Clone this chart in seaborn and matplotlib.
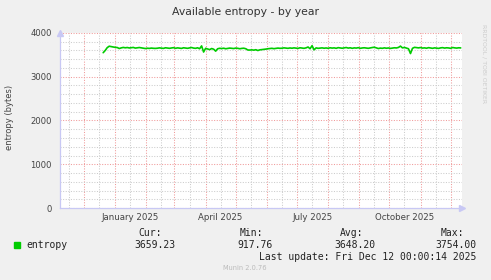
import numpy as np
import pandas as pd
import matplotlib
matplotlib.use("Agg")
import matplotlib.pyplot as plt
import matplotlib.dates as mdates
from matplotlib.ticker import MultipleLocator, FuncFormatter, NullFormatter
import seaborn as sns

# ---- data ----
start_date = "2024-12-20"
step_days = 2
entropy = [
    3550, 3600, 3665, 3698, 3688, 3680, 3672, 3668, 3645, 3660,
    3670, 3662, 3668, 3658, 3664, 3670, 3655, 3662, 3668, 3660,
    3650, 3645, 3652, 3648, 3655, 3650, 3648, 3652, 3660, 3655,
    3648, 3662, 3655, 3650, 3658, 3665, 3650, 3660, 3655, 3648,
    3662, 3655, 3650, 3658, 3668, 3655, 3650, 3662, 3640, 3705,
    3565, 3650, 3635, 3620, 3645, 3630, 3585, 3640, 3650, 3645,
    3652, 3640, 3648, 3655, 3650, 3645, 3655, 3650, 3640, 3648,
    3652, 3640, 3612, 3610, 3615, 3608, 3618, 3600, 3615, 3620,
    3625, 3632, 3640, 3645, 3650, 3642, 3648, 3655, 3650, 3652,
    3660, 3655, 3650, 3658, 3652, 3660, 3655, 3648, 3662, 3655,
    3650, 3660, 3680, 3640, 3710, 3615, 3660, 3650, 3655, 3660,
    3652, 3658, 3650, 3662, 3655, 3660, 3650, 3665, 3658, 3652,
    3660, 3668, 3655, 3662, 3650, 3660, 3655, 3665, 3650, 3658,
    3662, 3655, 3650, 3660, 3668, 3675, 3660, 3645, 3655, 3650,
    3660, 3652, 3658, 3648, 3655, 3662, 3658, 3670, 3700, 3660,
    3670, 3655, 3640, 3530, 3650, 3672, 3665, 3660, 3668, 3655,
    3660, 3652, 3665, 3658, 3650, 3660, 3655, 3648, 3660, 3665,
    3655, 3662, 3658, 3650, 3668, 3660, 3655, 3662, 3659,
]
x_start, x_end = "2024-11-07", "2025-12-12"
y_max = 4000
label_months = [1, 4, 7, 10]

legend_name = "entropy"
stat_heads = ["Cur:", "Min:", "Avg:", "Max:"]
stat_vals = ["3659.23", "917.76", "3648.20", "3754.00"]
last_update = "Last update: Fri Dec 12 00:00:14 2025"
title = "Available entropy - by year"
ylabel = "entropy (bytes)"

dates = pd.date_range(start_date, periods=len(entropy), freq=f"{step_days}D")
df = pd.DataFrame({"date": dates, "entropy": entropy})

# ---- figure ----
sns.set_style("white")
plt.rcParams["font.family"] = ["DejaVu Sans"]
W, H = 491, 280
fig = plt.figure(figsize=(W / 100, H / 100), dpi=100, facecolor="#f0f0f0")
ax = fig.add_axes([60 / W, 1 - 208 / H, (461.7 - 60) / W, (208 - 33) / H])
ax.set_facecolor("white")

sns.lineplot(data=df, x="date", y="entropy", ax=ax, color="#00cc00",
             linewidth=1.2, legend=False)

ax.set_xlim(pd.Timestamp(x_start), pd.Timestamp(x_end))
ax.set_ylim(0, y_max)

# grids
ax.xaxis.set_major_locator(mdates.MonthLocator(bymonthday=1))
ax.xaxis.set_minor_locator(mdates.MonthLocator(bymonthday=16))
ax.xaxis.set_major_formatter(NullFormatter())
ax.xaxis.set_minor_formatter(FuncFormatter(
    lambda v, p: mdates.num2date(v).strftime("%B %Y")
    if mdates.num2date(v).month in label_months else ""))
ax.yaxis.set_major_locator(MultipleLocator(1000))
ax.yaxis.set_minor_locator(MultipleLocator(200))

ax.grid(which="minor", color="#cccccc", linestyle=(0, (1, 1.5)), linewidth=0.75)
ax.grid(which="major", color="#f09a9a", linestyle=(0, (1, 1.5)), linewidth=0.75)
ax.set_axisbelow(True)

ax.tick_params(axis="y", which="major", length=2, width=0.7, color="#e07070",
               labelsize=6.1, labelcolor="#444444", pad=4)
ax.tick_params(axis="y", which="minor", length=2, width=0.7, color="#c0c0c0")
ax.tick_params(axis="x", which="major", length=2, width=0.7, color="#e07070")
ax.tick_params(axis="x", which="minor", length=2, width=0.7, color="#c0c0c0",
               labelsize=6.2, labelcolor="#444444", pad=1.5)

for s in ["top", "right"]:
    ax.spines[s].set_visible(False)
for s in ["left", "bottom"]:
    ax.spines[s].set_color("#c8c8f4")
    ax.spines[s].set_linewidth(0.9)

# axis arrows
ax.plot([0], [1.0], marker="^", markersize=4, color="#c8c8f4",
        transform=ax.transAxes, clip_on=False)
ax.plot([1.0], [0], marker=">", markersize=4, color="#c8c8f4",
        transform=ax.transAxes, clip_on=False)

ax.set_xlabel("")
ax.set_ylabel("")

fig.text(245.5 / W, 1 - 12 / H, title, ha="center", va="center",
         fontsize=7.8, color="#333333")
fig.text(10 / W, 1 - 117 / H, ylabel, ha="center", va="center",
         rotation=90, fontsize=6.0, color="#444444")
fig.text(484 / W, 1 - 24 / H, "RRDTOOL / TOBI OETIKER", ha="center", va="top",
         rotation=270, fontsize=4.4, color="#cccccc")

# legend area
mono = "DejaVu Sans Mono"
fig.patches.append(plt.Rectangle((13.5 / W, 1 - 247.5 / H), 6 / W, 6 / H,
                                 transform=fig.transFigure, color="#00cc00"))
fig.text(26 / W, 1 - 244.5 / H, legend_name, ha="left", va="center",
         family=mono, fontsize=7, color="#222222")
head_right = [162.3, 263.3, 363.3, 464.3]
val_right = [175.7, 272.7, 375.0, 476.7]
for h, xr in zip(stat_heads, head_right):
    fig.text(xr / W, 1 - 232.5 / H, h, ha="right", va="center",
             family=mono, fontsize=7, color="#222222")
for v, xr in zip(stat_vals, val_right):
    fig.text(xr / W, 1 - 244.5 / H, v, ha="right", va="center",
             family=mono, fontsize=7, color="#222222")
fig.text(476.7 / W, 1 - 256.5 / H, last_update, ha="right", va="center",
         family=mono, fontsize=7, color="#222222")
fig.text(245 / W, 1 - 268 / H, "Munin 2.0.76", ha="center", va="center",
         fontsize=4.8, color="#bbbbbb")

fig.savefig("out.png", dpi=100, facecolor=fig.get_facecolor())
